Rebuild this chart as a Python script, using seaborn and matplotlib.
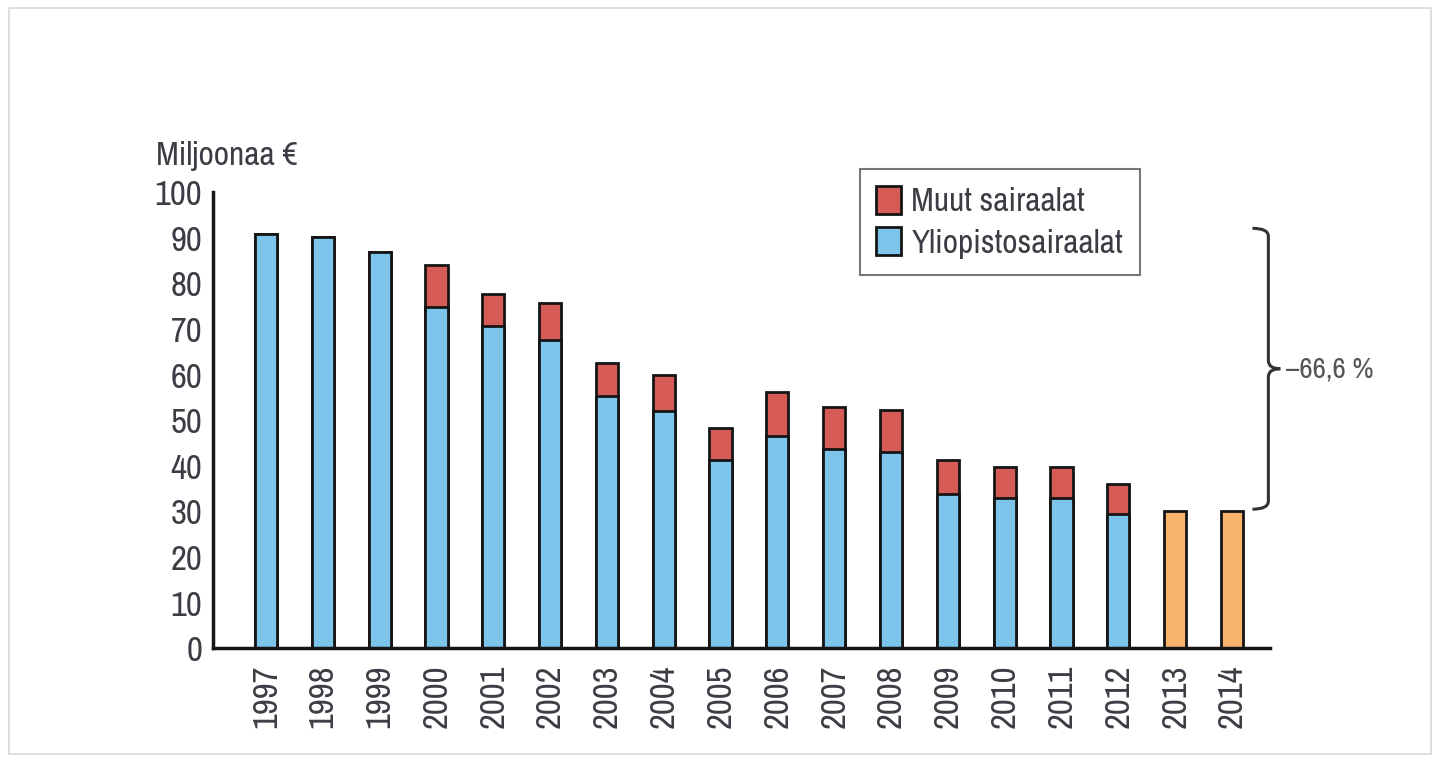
import pandas as pd
import numpy as np
import matplotlib.pyplot as plt
import seaborn as sns
from matplotlib import font_manager as fm
from matplotlib.patches import Patch, Rectangle, PathPatch
from matplotlib.path import Path

# ── Data ──────────────────────────────────────────────────────────────────────
years = [str(y) for y in range(1997, 2015)]
years_split = years[:16]              # 1997-2012, split by hospital type
years_total = ['2013', '2014']        # only totals
yliopisto = [90.8, 90.3, 87.0, 74.8, 70.6, 67.6, 55.4, 52.0,
             41.3, 46.6, 43.8, 43.0, 33.8, 33.0, 33.0, 29.4]
kaikki    = [90.8, 90.3, 87.0, 84.0, 77.8, 75.7, 62.5, 60.0,
             48.4, 56.3, 53.0, 52.2, 41.2, 39.8, 39.8, 36.0]
kaikki_late = [30.2, 30.0]
change_label = '–66,6 %'

df_split = pd.DataFrame({'Vuosi': years_split, 'Yliopisto': yliopisto, 'Yhteensa': kaikki})
df_late = pd.DataFrame({'Vuosi': years_total, 'Yhteensa': kaikki_late})

# ── Style ─────────────────────────────────────────────────────────────────────
sns.set_theme(style='white')

# look for a narrow font (original uses a condensed face)
narrow = None
for f in fm.fontManager.ttflist:
    if 'Narrow' in f.name or 'Condensed' in f.name:
        narrow = dict(family=f.name, stretch='normal')
        break
if narrow is None:
    for f in fm.fontManager.ttflist:
        if f.name == 'DejaVu Sans' and f.stretch in ('condensed', 'semi-condensed') and f.weight in (400, 'normal'):
            narrow = dict(family='DejaVu Sans', stretch='condensed')
            break
if narrow is None:
    narrow = dict(family='DejaVu Sans', stretch='normal')
    fs = 20
else:
    fs = 23
plt.rcParams['font.family'] = [narrow['family'], 'DejaVu Sans']
plt.rcParams['font.stretch'] = narrow['stretch']

txt = '#3c3c44'
red, blue, orange = '#d65a55', '#7cc4ea', '#f8b36c'
edge = '#151515'

fig = plt.figure(figsize=(14.4, 7.6), dpi=100)
ax = fig.add_axes([0.148, 0.147, 0.734, 0.600])

bar_kw = dict(order=years, width=0.39, edgecolor=edge, linewidth=2, ax=ax)
sns.barplot(data=df_split, x='Vuosi', y='Yhteensa', color=red, saturation=1, **bar_kw)
sns.barplot(data=df_split, x='Vuosi', y='Yliopisto', color=blue, saturation=1, **bar_kw)
sns.barplot(data=df_late, x='Vuosi', y='Yhteensa', color=orange, saturation=1, **bar_kw)

ax.set_xlim(-0.93, 17.67)
ax.set_ylim(0, 100)
ax.set_yticks(range(0, 101, 10))
ax.set_xlabel('')
ax.set_ylabel('')
sns.despine(ax=ax)
for s in ['left', 'bottom']:
    ax.spines[s].set_color(edge)
    ax.spines[s].set_linewidth(2.5)
ax.tick_params(axis='y', direction='in', length=11, width=2.5, color=edge,
               labelsize=fs + 2, labelcolor=txt, pad=8)
ax.tick_params(axis='x', length=0, labelsize=fs + 2, labelcolor=txt, labelrotation=90, pad=12)
ax.grid(False)

fig.text(0.108, 0.795, 'Miljoonaa €', fontsize=fs + 1, color=txt, ha='left', va='center')

# ── Legend ────────────────────────────────────────────────────────────────────
handles = [Patch(facecolor=red, edgecolor=edge, linewidth=2, label='Muut sairaalat'),
           Patch(facecolor=blue, edgecolor=edge, linewidth=2, label='Yliopistosairaalat')]
leg = ax.legend(handles=handles, loc='upper left', bbox_to_anchor=(0.597, 0.777),
                bbox_transform=fig.transFigure, borderaxespad=0, fontsize=fs + 1,
                frameon=True, fancybox=False, handlelength=0.75, handleheight=0.9,
                handletextpad=0.3, labelspacing=0.3, borderpad=0.5, labelcolor=txt)
leg.get_frame().set_edgecolor('#555555')
leg.get_frame().set_linewidth(1.5)

# ── Brace (-66,6 %) ───────────────────────────────────────────────────────────
y_top, y_bot = kaikki[0] + 1.3, kaikki_late[-1] + 0.5
y_mid = (y_top + y_bot) / 2
x0, x1, x2 = 17.36, 17.64, 17.85
c = 1.8
verts = [(x0, y_top), (x1, y_top), (x1, y_top - c),
         (x1, y_mid + c),
         (x1, y_mid), (x2, y_mid),
         (x1, y_mid), (x1, y_mid - c),
         (x1, y_bot + c),
         (x1, y_bot), (x0, y_bot)]
codes = [Path.MOVETO, Path.CURVE3, Path.CURVE3,
         Path.LINETO,
         Path.CURVE3, Path.CURVE3,
         Path.CURVE3, Path.CURVE3,
         Path.LINETO,
         Path.CURVE3, Path.CURVE3]
ax.add_patch(PathPatch(Path(verts, codes), facecolor='none', edgecolor='#333333',
                       linewidth=2.2, clip_on=False))
ax.text(x2 + 0.1, y_mid, change_label, fontsize=fs - 2, color='#555555',
        ha='left', va='center', clip_on=False)

# thin frame around the picture
fig.patches.append(Rectangle((0.006, 0.008), 0.988, 0.982, transform=fig.transFigure,
                             fill=False, edgecolor='#d8d8d8', linewidth=1.2))

plt.savefig('out.png', dpi=100)
plt.close()
